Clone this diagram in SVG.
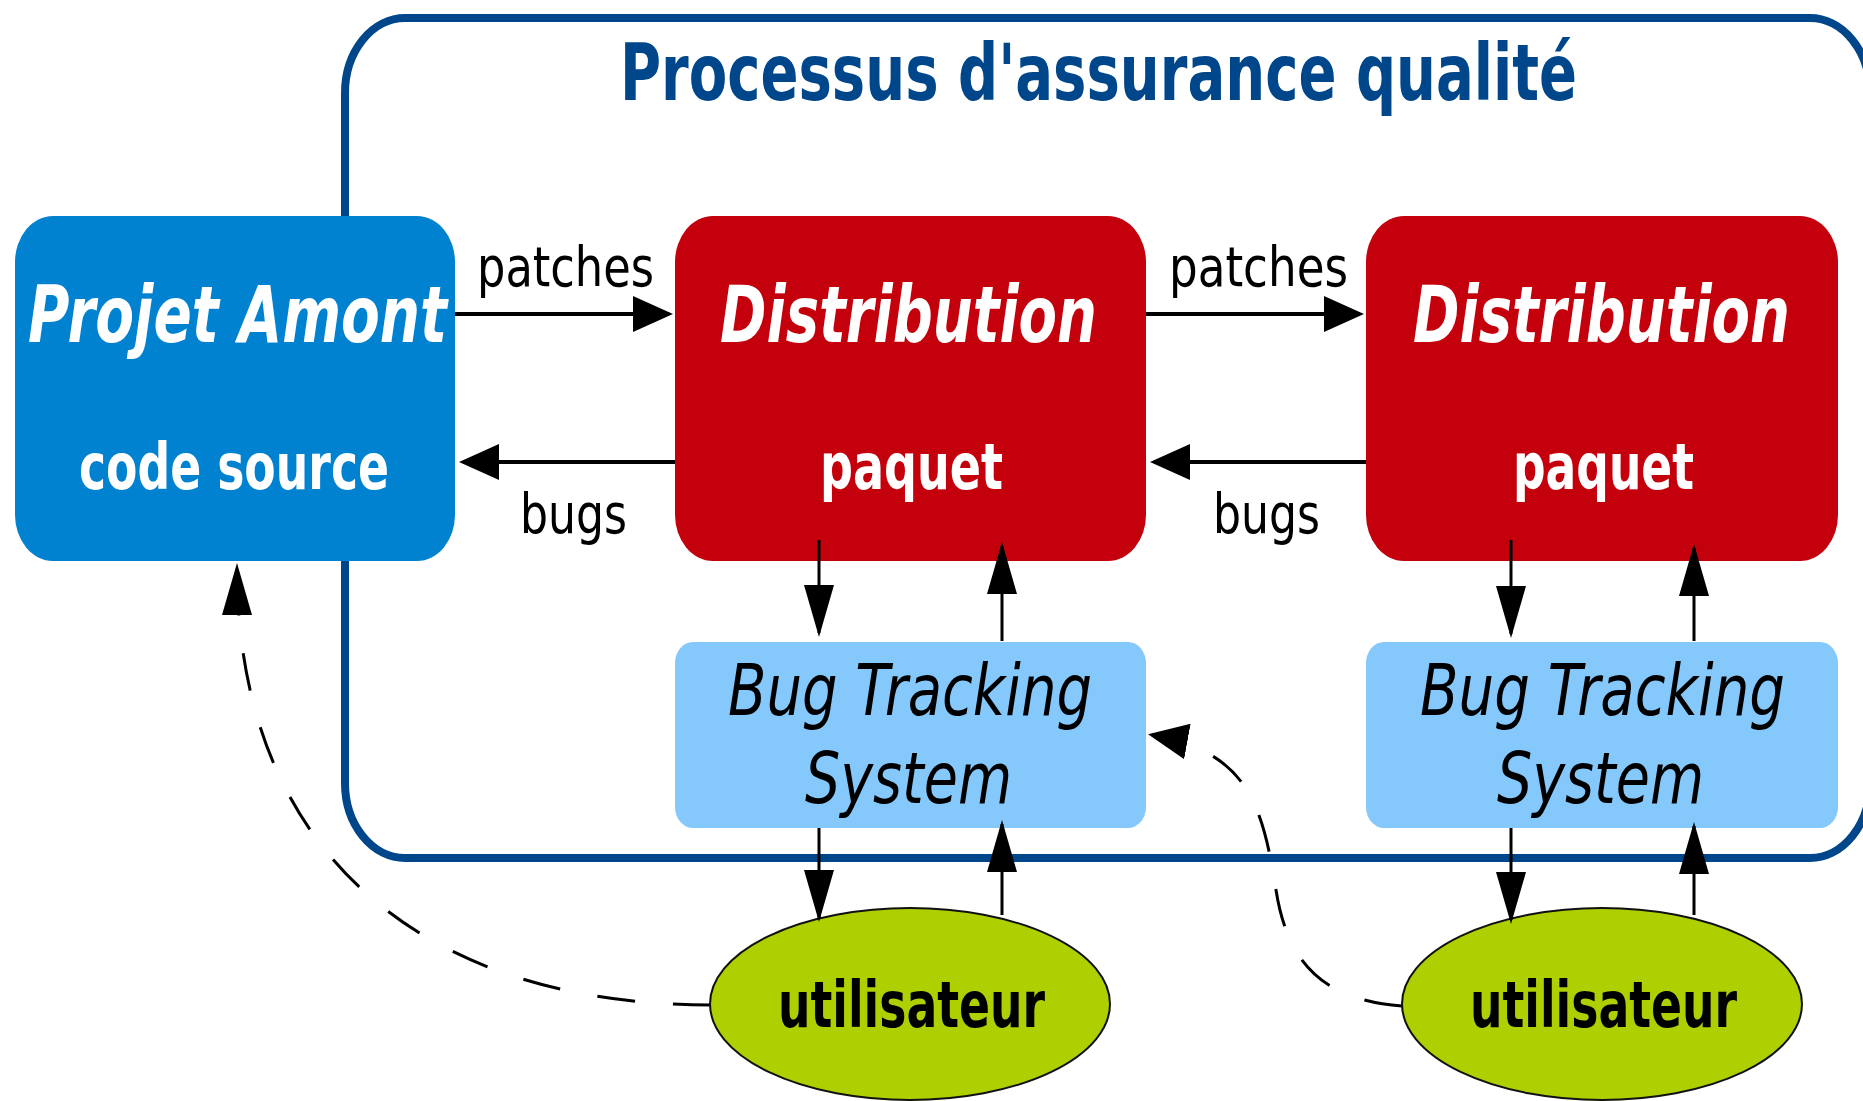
<svg xmlns="http://www.w3.org/2000/svg" width="1863" height="1101" viewBox="0 0 1863 1101">
  <style>
    .t { font-family: "DejaVu Sans Condensed", "DejaVu Sans", sans-serif; font-stretch: condensed; }
    .title { font-size: 78px; font-weight: bold; fill: #00468A; }
    .big { font-size: 78px; font-weight: bold; font-style: italic; fill: #ffffff; }
    .sub { font-size: 64px; font-weight: bold; fill: #ffffff; }
    .bts { font-size: 72px; font-style: italic; fill: #000000; }
    .user { font-size: 64px; font-weight: bold; fill: #000000; }
    .lbl { font-size: 56px; fill: #000000; }
    .upstream { fill: #0082D0; }
    .distro { fill: #C3000C; }
    .tracker { fill: #85C8FC; }
    .person { fill: #AFD000; stroke: #111111; stroke-width: 2; }
    .frame { fill: none; stroke: #00468A; stroke-width: 8; }
    .hline { fill: none; stroke: #000000; stroke-width: 4; }
    .vline { fill: none; stroke: #000000; stroke-width: 3; }
    .dash { fill: none; stroke: #000000; stroke-width: 3; stroke-dasharray: 38 38; }
  </style>
  <defs>
    <marker id="ah" markerUnits="userSpaceOnUse" viewBox="0 0 40 36" markerWidth="40" markerHeight="36" refX="36" refY="18" orient="auto">
      <path d="M0,0 L40,18 L0,36 Z" fill="#000000" stroke="none"/>
    </marker>
    <marker id="av" markerUnits="userSpaceOnUse" viewBox="0 0 52 30" markerWidth="52" markerHeight="30" refX="48" refY="15" orient="auto">
      <path d="M0,0 L52,15 L0,30 Z" fill="#000000" stroke="none"/>
    </marker>
  </defs>

  <g id="qa-process">
    <rect class="frame" x="345" y="18" width="1525" height="840" rx="60" ry="75"/>
    <text class="t title" x="620" y="100" textLength="957" lengthAdjust="spacingAndGlyphs">Processus d'assurance qualité</text>
  </g>

  <g id="connectors">
    <path class="hline" d="M455,314 H669" marker-end="url(#ah)"/>
    <path class="hline" d="M675,462 H463" marker-end="url(#ah)"/>
    <path class="hline" d="M1146,314 H1360" marker-end="url(#ah)"/>
    <path class="hline" d="M1366,462 H1154" marker-end="url(#ah)"/>
    <path class="dash" d="M711,1005 C420,1005 237,850 237,567" marker-end="url(#av)"/>
    <path class="dash" d="M1402,1006 C1320,1000 1287,960 1276,890 C1262,800 1245,752 1152,735" marker-end="url(#ah)"/>
  </g>

  <g id="projet-amont">
    <rect class="upstream" x="15" y="216" width="440" height="345" rx="38" ry="46"/>
    <text class="t big" x="28" y="342" textLength="419" lengthAdjust="spacingAndGlyphs">Projet Amont</text>
    <text class="t sub" x="79" y="489" textLength="310" lengthAdjust="spacingAndGlyphs">code source</text>
  </g>

  <g id="distribution-1">
    <rect class="distro" x="675" y="216" width="471" height="345" rx="38" ry="46"/>
    <text class="t big" x="720" y="342" textLength="377" lengthAdjust="spacingAndGlyphs">Distribution</text>
    <text class="t sub" x="820" y="489" textLength="183" lengthAdjust="spacingAndGlyphs">paquet</text>
  </g>

  <g id="distribution-2">
    <rect class="distro" x="1366" y="216" width="472" height="345" rx="38" ry="46"/>
    <text class="t big" x="1413" y="342" textLength="377" lengthAdjust="spacingAndGlyphs">Distribution</text>
    <text class="t sub" x="1513" y="489" textLength="181" lengthAdjust="spacingAndGlyphs">paquet</text>
  </g>

  <g id="bts-1">
    <rect class="tracker" x="675" y="642" width="471" height="186" rx="18" ry="21"/>
    <text class="t bts" x="728" y="715" textLength="364" lengthAdjust="spacingAndGlyphs">Bug Tracking</text>
    <text class="t bts" x="805" y="803" textLength="207" lengthAdjust="spacingAndGlyphs">System</text>
  </g>

  <g id="bts-2">
    <rect class="tracker" x="1366" y="642" width="472" height="186" rx="18" ry="21"/>
    <text class="t bts" x="1420" y="715" textLength="365" lengthAdjust="spacingAndGlyphs">Bug Tracking</text>
    <text class="t bts" x="1497" y="803" textLength="207" lengthAdjust="spacingAndGlyphs">System</text>
  </g>

  <g id="utilisateur-1">
    <ellipse class="person" cx="910" cy="1004" rx="200" ry="96"/>
    <text class="t user" x="778" y="1027" textLength="267" lengthAdjust="spacingAndGlyphs">utilisateur</text>
  </g>

  <g id="utilisateur-2">
    <ellipse class="person" cx="1602" cy="1004" rx="200" ry="96"/>
    <text class="t user" x="1470" y="1027" textLength="267" lengthAdjust="spacingAndGlyphs">utilisateur</text>
  </g>

  <g id="connectors-vertical">
    <path class="vline" d="M819,540 V633" marker-end="url(#av)"/>
    <path class="vline" d="M1002,641 V546" marker-end="url(#av)"/>
    <path class="vline" d="M819,828 V918" marker-end="url(#av)"/>
    <path class="vline" d="M1002,915 V824" marker-end="url(#av)"/>
    <path class="vline" d="M1511,540 V634" marker-end="url(#av)"/>
    <path class="vline" d="M1694,641 V548" marker-end="url(#av)"/>
    <path class="vline" d="M1511,828 V920" marker-end="url(#av)"/>
    <path class="vline" d="M1694,915 V826" marker-end="url(#av)"/>
  </g>

  <g id="labels">
    <text class="t lbl" x="477" y="286" textLength="177" lengthAdjust="spacingAndGlyphs">patches</text>
    <text class="t lbl" x="520" y="533" textLength="107" lengthAdjust="spacingAndGlyphs">bugs</text>
    <text class="t lbl" x="1169" y="286" textLength="179" lengthAdjust="spacingAndGlyphs">patches</text>
    <text class="t lbl" x="1213" y="533" textLength="107" lengthAdjust="spacingAndGlyphs">bugs</text>
  </g>
</svg>
